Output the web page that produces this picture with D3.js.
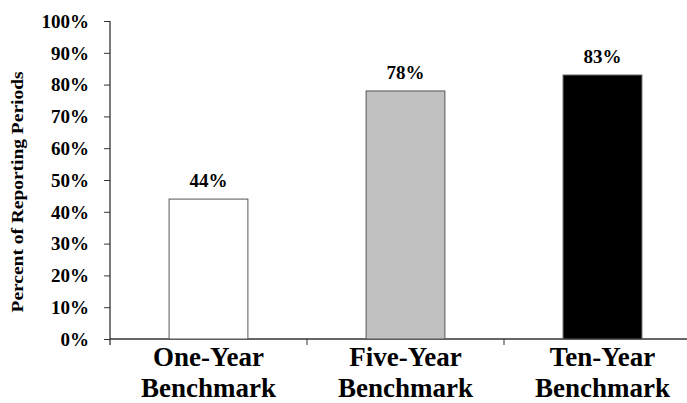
<!DOCTYPE html>
<html>
<head>
<meta charset="utf-8">
<script src="https://cdn.jsdelivr.net/npm/d3@7"></script>
<style>
  body { margin: 0; background: #fff; }
  svg text { font-family: "Liberation Serif", "Times New Roman", serif; font-weight: bold; fill: #000; }
</style>
</head>
<body>
<svg id="chart" width="687" height="403"></svg>
<script>
// data
const categories = ["One-Year Benchmark", "Five-Year Benchmark", "Ten-Year Benchmark"];
const values = [0.44, 0.78, 0.83];
const barColors = ["#ffffff", "#c0c0c0", "#000000"];
const yTicks = [0, 0.1, 0.2, 0.3, 0.4, 0.5, 0.6, 0.7, 0.8, 0.9, 1.0];

const svg = d3.select("#chart");
const plotLeft = 110, plotRight = 701, plotTop = 21, plotBottom = 339;

const x = d3.scaleBand()
  .domain(categories)
  .range([plotLeft, plotRight])
  .paddingInner(0.6)
  .paddingOuter(0.3);

const y = d3.scaleLinear()
  .domain([0, 1])
  .range([plotBottom, plotTop]);

const fmt = d3.format(".0%");

// Y axis
const yAxis = svg.append("g")
  .attr("transform", "translate(" + plotLeft + ",0)")
  .call(d3.axisLeft(y).tickValues(yTicks).tickFormat(fmt).tickSize(6).tickSizeOuter(0).tickPadding(15));
yAxis.attr("font-family", null);
yAxis.select(".domain").attr("stroke", "#333").attr("stroke-width", 1.3).attr("d", "M0," + plotTop + "V" + (plotBottom + 6));
yAxis.selectAll(".tick line").attr("stroke", "#333");
yAxis.selectAll("text").attr("font-size", 19).attr("dy", "0.33em");

// X axis line and tick marks at band boundaries
svg.append("line")
  .attr("x1", plotLeft).attr("x2", 687)
  .attr("y1", plotBottom).attr("y2", plotBottom)
  .attr("stroke", "#333").attr("stroke-width", 1.3);
svg.append("g").selectAll("line")
  .data(categories.slice(1))
  .enter()
  .append("line")
  .attr("x1", (d, i) => plotLeft + (i + 1) * x.step())
  .attr("x2", (d, i) => plotLeft + (i + 1) * x.step())
  .attr("y1", plotBottom).attr("y2", plotBottom + 6)
  .attr("stroke", "#333");

// bars
svg.append("g").selectAll("rect")
  .data(values)
  .enter()
  .append("rect")
  .attr("x", (d, i) => x(categories[i]))
  .attr("y", d => y(d))
  .attr("width", x.bandwidth())
  .attr("height", d => plotBottom - y(d))
  .attr("fill", (d, i) => barColors[i])
  .attr("stroke", "#555")
  .attr("stroke-width", 1);

// value labels
svg.append("g").selectAll("text")
  .data(values)
  .enter()
  .append("text")
  .attr("x", (d, i) => x(categories[i]) + x.bandwidth() / 2)
  .attr("y", d => y(d) - 12)
  .attr("text-anchor", "middle")
  .attr("font-size", 19)
  .text(d => fmt(d));

// category labels, two lines each
const cat = svg.append("g").selectAll("text")
  .data(categories)
  .enter()
  .append("text")
  .attr("text-anchor", "middle")
  .attr("font-size", 27)
  .attr("x", d => x(d) + x.bandwidth() / 2)
  .attr("y", 366);
cat.each(function(d) {
  const parts = d.split(" ");
  const t = d3.select(this);
  parts.forEach((p, j) => {
    t.append("tspan")
      .attr("x", x(d) + x.bandwidth() / 2)
      .attr("dy", j === 0 ? 0 : 31)
      .text(p);
  });
});

// y title
svg.append("text")
  .attr("transform", "translate(23,192) rotate(-90)")
  .attr("text-anchor", "middle")
  .attr("font-size", 17)
  .attr("textLength", 241)
  .attr("lengthAdjust", "spacingAndGlyphs")
  .text("Percent of Reporting Periods");
</script>
</body>
</html>
